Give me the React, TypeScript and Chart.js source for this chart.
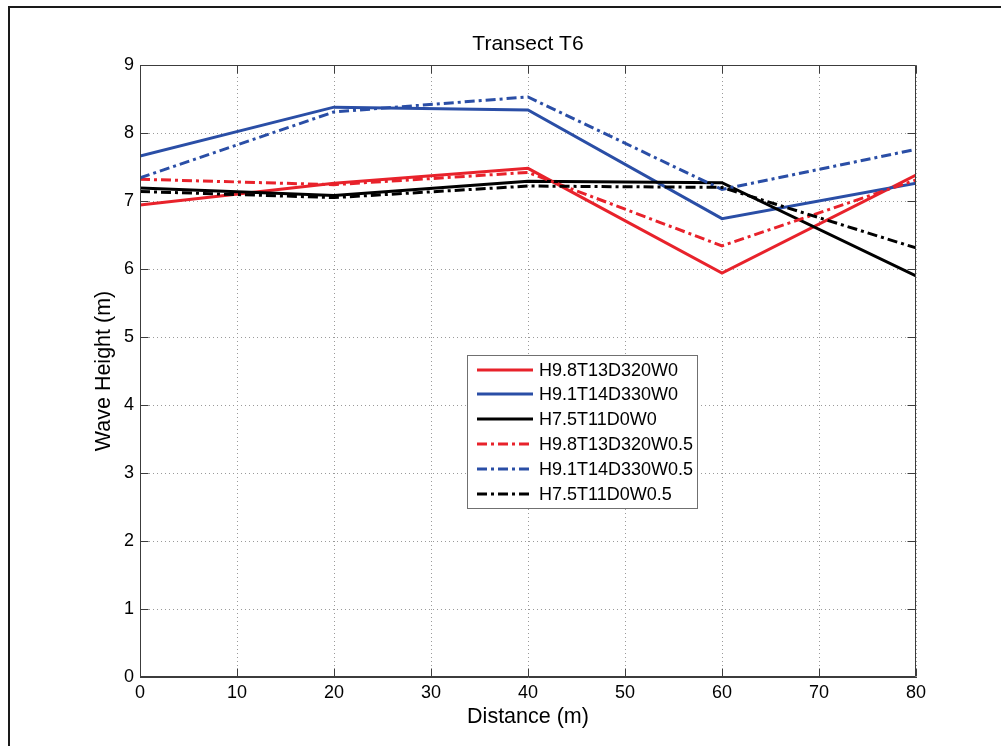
import React, { useEffect, useRef } from "react";
import { Chart, registerables } from "chart.js";

Chart.register(...registerables);

const FONT = '"Liberation Sans", Arial, Helvetica, sans-serif';

// Distance along transect (m)
const distance = [0, 20, 40, 60, 80];

// Wave heights (m)
const h98w0 = [6.94, 7.26, 7.48, 5.94, 7.38];
const h91w0 = [7.66, 8.38, 8.34, 6.74, 7.26];
const h75w0 = [7.19, 7.08, 7.29, 7.27, 5.9];
const h98w05 = [7.32, 7.24, 7.42, 6.34, 7.31];
const h91w05 = [7.34, 8.31, 8.53, 7.17, 7.76];
const h75w05 = [7.14, 7.05, 7.22, 7.2, 6.31];

const seriesLabels = [
  "H9.8T13D320W0",
  "H9.1T14D330W0",
  "H7.5T11D0W0",
  "H9.8T13D320W0.5",
  "H9.1T14D330W0.5",
  "H7.5T11D0W0.5",
];
const seriesValues = [h98w0, h91w0, h75w0, h98w05, h91w05, h75w05];

const xTicks = [0, 10, 20, 30, 40, 50, 60, 70, 80];
const yTicks = [0, 1, 2, 3, 4, 5, 6, 7, 8, 9];

const chartTitle = "Transect T6";

const RED = "#e8222b";
const BLUE = "#2a4ea6";
const BLACK = "#000000";
const seriesColors = [RED, BLUE, BLACK, RED, BLUE, BLACK];
const DASH_DOT = [10, 4, 3, 4];
const seriesDash = [[], [], [], DASH_DOT, DASH_DOT, DASH_DOT];

const titlePlugin = {
  id: "matlabTitle",
  afterDraw(chart: any) {
    const { ctx, chartArea } = chart;
    ctx.save();
    ctx.font = `21px ${FONT}`;
    ctx.fillStyle = "#000";
    ctx.textAlign = "center";
    ctx.textBaseline = "middle";
    ctx.fillText(chartTitle, (chartArea.left + chartArea.right) / 2, 44);
    ctx.restore();
  },
};

const boxPlugin = {
  id: "matlabBox",
  afterDraw(chart: any) {
    const { ctx, chartArea, scales } = chart;
    const { left, right, top, bottom } = chartArea;
    const L = Math.round(left) + 0.5;
    const R = Math.round(right) - 0.5;
    const T = Math.round(top) + 0.5;
    const B = Math.round(bottom) - 0.5;
    ctx.save();
    ctx.setLineDash([]);
    ctx.strokeStyle = "#3c3c3c";
    ctx.lineWidth = 1;
    ctx.beginPath();
    ctx.rect(L, T, R - L, B - T);
    ctx.stroke();
    const tl = 8;
    ctx.beginPath();
    xTicks.forEach((v) => {
      const px = Math.round(scales.x.getPixelForValue(v)) + 0.5;
      ctx.moveTo(px, B);
      ctx.lineTo(px, B - tl);
      ctx.moveTo(px, T);
      ctx.lineTo(px, T + tl);
    });
    yTicks.forEach((v) => {
      const py = Math.round(scales.y.getPixelForValue(v)) + 0.5;
      ctx.moveTo(L, py);
      ctx.lineTo(L + tl, py);
      ctx.moveTo(R, py);
      ctx.lineTo(R - tl, py);
    });
    ctx.stroke();
    ctx.restore();
  },
};

const legendPlugin = {
  id: "matlabLegend",
  afterDraw(chart: any) {
    const { ctx } = chart;
    const bx = 467.5;
    const by = 355.5;
    const bw = 230;
    const bh = 153;
    ctx.save();
    ctx.fillStyle = "#ffffff";
    ctx.fillRect(bx, by, bw, bh);
    ctx.strokeStyle = "#707070";
    ctx.lineWidth = 1;
    ctx.setLineDash([]);
    ctx.strokeRect(bx, by, bw, bh);
    ctx.font = `18px ${FONT}`;
    ctx.textBaseline = "middle";
    ctx.textAlign = "left";
    chart.data.datasets.forEach((ds: any, i: number) => {
      const y = Math.round(by + 14 + i * 24.8);
      ctx.beginPath();
      ctx.setLineDash(ds.borderDash || []);
      ctx.strokeStyle = ds.borderColor;
      ctx.lineWidth = ds.borderWidth;
      ctx.moveTo(477, y);
      ctx.lineTo(533, y);
      ctx.stroke();
      ctx.setLineDash([]);
      ctx.fillStyle = "#000";
      ctx.fillText(ds.label, 539, y + 1);
    });
    ctx.restore();
  },
};

export default function App() {
  const ref = useRef<HTMLCanvasElement | null>(null);

  useEffect(() => {
    if (!ref.current) return;
    Chart.defaults.font.family = FONT;
    Chart.defaults.color = "#000";
    const datasets = seriesLabels.map((label, i) => ({
      label,
      data: distance.map((d, j) => ({ x: d, y: seriesValues[i][j] })),
      borderColor: seriesColors[i],
      backgroundColor: seriesColors[i],
      borderWidth: 3,
      borderDash: seriesDash[i],
      pointRadius: 0,
      tension: 0,
      fill: false,
      order: -i,
    }));
    const chart = new Chart(ref.current, {
      type: "line",
      data: { datasets },
      options: {
        animation: false,
        responsive: false,
        devicePixelRatio: 1,
        layout: { padding: { left: 0, right: 85, top: 65, bottom: 0 } },
        plugins: {
          legend: { display: false },
          tooltip: { enabled: false },
          title: { display: false },
        },
        scales: {
          x: {
            type: "linear",
            min: 0,
            max: 80,
            afterFit: (s: any) => {
              s.height = 69;
            },
            afterBuildTicks: (s: any) => {
              s.ticks = xTicks.map((v) => ({ value: v }));
            },
            ticks: {
              font: { size: 18, family: FONT },
              color: "#000",
              padding: 5,
              maxRotation: 0,
              autoSkip: false,
            },
            grid: { color: "#9a9a9a", lineWidth: 1, drawTicks: false },
            border: { display: true, color: "#3c3c3c", dash: [1, 3] },
            title: {
              display: true,
              text: "Distance (m)",
              color: "#000",
              font: { size: 21.5, family: FONT },
              padding: { top: 0, bottom: 16 },
            },
          },
          y: {
            type: "linear",
            min: 0,
            max: 9,
            afterFit: (s: any) => {
              s.width = 140;
            },
            afterBuildTicks: (s: any) => {
              s.ticks = yTicks.map((v) => ({ value: v }));
            },
            ticks: {
              font: { size: 18, family: FONT },
              color: "#000",
              padding: 6,
              autoSkip: false,
            },
            grid: { color: "#9a9a9a", lineWidth: 1, drawTicks: false },
            border: { display: true, color: "#3c3c3c", dash: [1, 3] },
            title: {
              display: true,
              text: "Wave Height (m)",
              color: "#000",
              font: { size: 21.5, family: FONT },
              padding: { top: 91, bottom: 0 },
            },
          },
        },
      },
      plugins: [titlePlugin, boxPlugin, legendPlugin],
    } as any);
    return () => chart.destroy();
  }, []);

  return (
    <>
      <canvas
        ref={ref}
        width={1001}
        height={746}
        style={{ position: "fixed", left: 0, top: 0, width: 1001, height: 746 }}
      />
      <div
        style={{
          position: "fixed",
          left: 8,
          top: 6,
          width: 993,
          height: 740,
          boxSizing: "border-box",
          borderTop: "2px solid #1a1a1a",
          borderLeft: "2px solid #1a1a1a",
          pointerEvents: "none",
        }}
      />
    </>
  );
}
